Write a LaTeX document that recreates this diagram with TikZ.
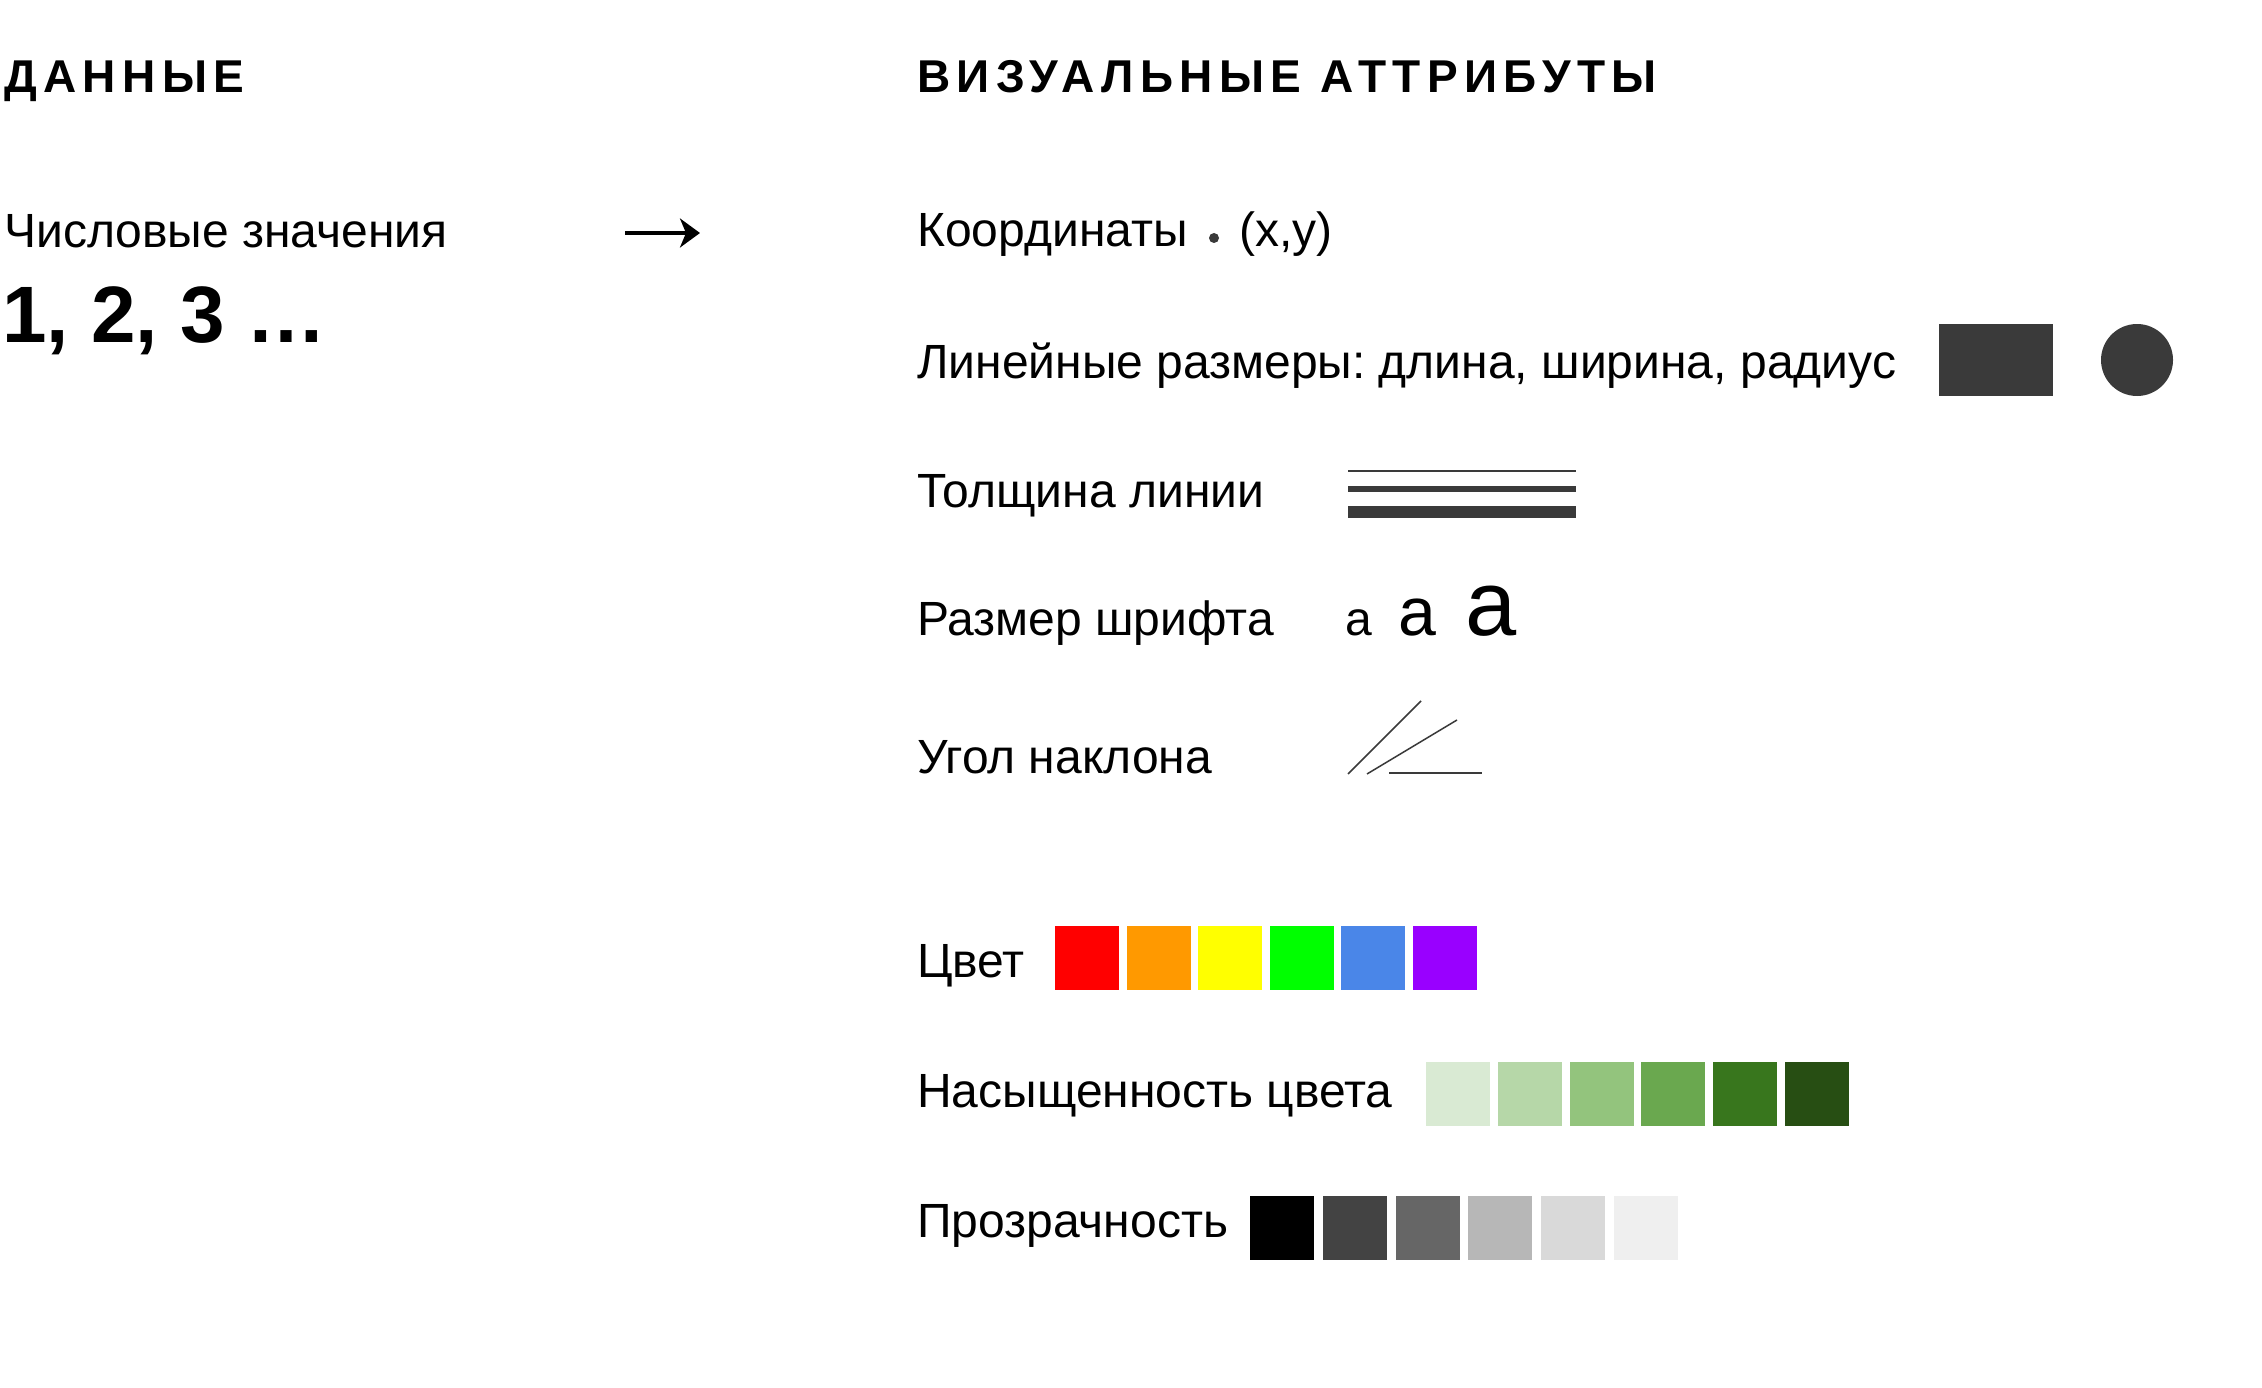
\documentclass[tikz,border=0pt]{standalone}
\usepackage{fontspec}
\setmainfont{Liberation Sans}
\newfontfamily\headfont{Liberation Sans}[LetterSpace=14]
\usetikzlibrary{arrows.meta}
\frenchspacing
\definecolor{shp}{HTML}{3A3A3A}
\definecolor{cR}{HTML}{FF0000}
\definecolor{cO}{HTML}{FF9900}
\definecolor{cY}{HTML}{FFFF00}
\definecolor{cG}{HTML}{00FF00}
\definecolor{cB}{HTML}{4A86E8}
\definecolor{cP}{HTML}{9900FF}
\definecolor{gA}{HTML}{D9EAD3}
\definecolor{gB}{HTML}{B6D7A8}
\definecolor{gC}{HTML}{93C47D}
\definecolor{gD}{HTML}{6AA84F}
\definecolor{gE}{HTML}{38761D}
\definecolor{gF}{HTML}{274E13}
\definecolor{kA}{HTML}{000000}
\definecolor{kB}{HTML}{434343}
\definecolor{kC}{HTML}{666666}
\definecolor{kD}{HTML}{B7B7B7}
\definecolor{kE}{HTML}{D9D9D9}
\definecolor{kF}{HTML}{EFEFEF}
\begin{document}
\begin{tikzpicture}[x=1pt,y=-1pt,
  lbl/.style={anchor=base west, inner sep=0pt, font=\fontsize{48}{56}\selectfont\frenchspacing},
  head/.style={anchor=base west, inner sep=0pt, font=\fontsize{46}{56}\selectfont\headfont\bfseries},
  big/.style={anchor=base west, inner sep=0pt, font=\fontsize{80}{90}\selectfont\bfseries},
  thinln/.style={draw=shp, line width=1.5pt}]
\useasboundingbox[fill=white] (0,0) rectangle (2262,1388);
% left column
\node[head] (hdata) at (4,93) {ДАННЫЕ};
\node[lbl] (num) at (4,248) {Числовые значения};
\node[big] (nums) at (2,342) {1, 2, 3 …};
\coordinate (arrS) at (625,233);
\coordinate (arrE) at (700,233);
\draw[line width=4.5pt, -{Stealth[length=20pt, width=29pt, inset=6pt]}] (arrS) -- (arrE);
% right column
\node[head] (hvis) at (917,93) {ВИЗУАЛЬНЫЕ АТТРИБУТЫ};
\node[lbl] (coord) at (917,247) {Координаты};
\fill[shp] (1214,238) circle (5);
\node[lbl] (xy) at (1239,247) {(x,y)};
\node[lbl] (lin) at (917,378) {Линейные размеры: длина, ширина, радиус};
\fill[shp] (1939,324) rectangle (2053,396);
\fill[shp] (2137,360) circle (36);
\node[lbl] (thick) at (917,507) {Толщина линии};
\draw[shp, line width=2pt] (1348,471) -- (1576,471);
\draw[shp, line width=6pt] (1348,489) -- (1576,489);
\draw[shp, line width=12pt] (1348,512) -- (1576,512);
\node[lbl] (fsize) at (917,635) {Размер шрифта};
\node[anchor=base west, inner sep=0pt, font=\fontsize{48}{56}\selectfont] (a1) at (1345,635) {a};
\node[anchor=base west, inner sep=0pt, font=\fontsize{68}{80}\selectfont] (a2) at (1398,635) {a};
\node[anchor=base west, inner sep=0pt, font=\fontsize{92}{100}\selectfont] (a3) at (1465,635) {a};
\node[lbl] (angle) at (917,773) {Угол наклона};
\draw[thinln] (1348,774) -- (1421,701);
\draw[thinln] (1367,774) -- (1457,720);
\draw[thinln] (1389,773) -- (1482,773);
\node[lbl] (color) at (917,977) {Цвет};
\foreach \c [count=\i from 0] in {cR,cO,cY,cG,cB,cP}
  \fill[\c] ({1055+71.6*\i},926) rectangle ++(64,64);
\node[lbl] (sat) at (917,1107) {Насыщенность цвета};
\foreach \c [count=\i from 0] in {gA,gB,gC,gD,gE,gF}
  \fill[\c] ({1426+71.8*\i},1062) rectangle ++(64,64);
\node[lbl] (alpha) at (917,1237) {Прозрачность};
\foreach \c [count=\i from 0] in {kA,kB,kC,kD,kE,kF}
  \fill[\c] ({1250+72.8*\i},1196) rectangle ++(64,64);
\end{tikzpicture}
\end{document}
